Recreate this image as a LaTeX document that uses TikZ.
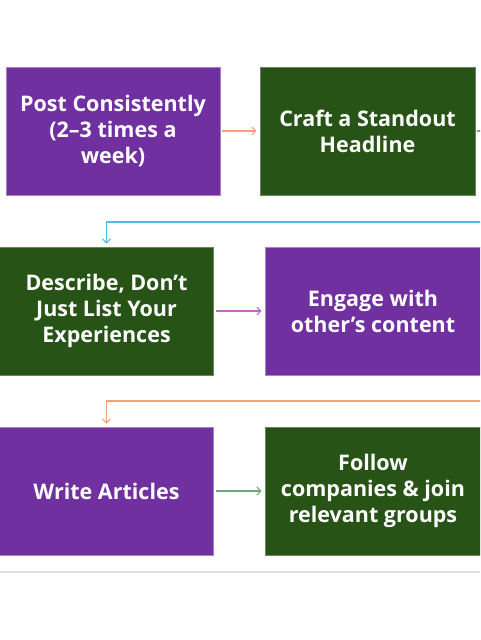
\documentclass[tikz,border=0pt]{standalone}
\usepackage{fontspec}
\setmainfont{Open Sans}[Ligatures=NoCommon]
\usetikzlibrary{arrows.meta}
\definecolor{boxpurple}{HTML}{7030A0}
\definecolor{boxgreen}{HTML}{275317}
\definecolor{arrorange}{HTML}{F3A07A}
\definecolor{arrpurple}{HTML}{C466C8}
\definecolor{arrgreen}{HTML}{6FA878}
\definecolor{arrblue}{HTML}{4DBBEB}
\definecolor{rulegray}{HTML}{DEDEDE}
\tikzset{
  stepbox/.style={minimum width=214pt, minimum height=128pt, inner sep=0pt,
    text=white, align=center, font=\bfseries\fontsize{21.5}{26}\selectfont},
  purplebox/.style={stepbox, fill=boxpurple, draw=boxpurple!60!white, line width=0.6pt},
  greenbox/.style={stepbox, fill=boxgreen, draw=boxgreen!70!white, line width=0.6pt},
  conn/.style={line width=1.1pt, -{Straight Barb[length=4pt,width=8pt]}, shorten >=3pt, shorten <=2pt},
}
\begin{document}
\begin{tikzpicture}[x=1pt,y=-1pt]
\useasboundingbox (0,0) rectangle (480,640);
\clip (0,0) rectangle (480,640);
\node[purplebox] (b1) at (113,131) {Post Consistently\\(2–3 times a\\week)};
\node[greenbox, minimum width=215pt] (b2) at (367.5,131) {Craft a Standout\\Headline};
\node[greenbox] (b3) at (106.5,311) {Describe, Don’t\\Just List Your\\Experiences};
\node[purplebox, minimum width=216pt] (b4) at (373,311) {Engage with\\other’s content};
\node[purplebox] (b5) at (106.5,491) {Write Articles};
\node[greenbox, minimum width=216pt] (b6) at (373,491) {Follow\\companies \& join\\relevant groups};
\coordinate (gout) at (500,131);
\coordinate (bin) at (500,222);
\coordinate (oin) at (500,401);
\draw[conn, draw=arrorange] (b1.east) -- (b2.west);
\draw[line width=1.1pt, draw=arrgreen, shorten <=2pt] (b2.east) -- (gout);
\draw[conn, draw=arrblue] (bin) -- (bin -| b3.north) -- (b3.north);
\draw[conn, draw=arrpurple] (b3.east) -- (b4.west);
\draw[conn, draw=arrorange] (oin) -- (oin -| b5.north) -- (b5.north);
\draw[conn, draw=arrgreen] (b5.east) -- (b6.west);
\coordinate (rl) at (0,572);
\coordinate (rr) at (480,572);
\draw[line width=2.2pt, draw=rulegray] (rl) -- (rr);
\end{tikzpicture}
\end{document}
